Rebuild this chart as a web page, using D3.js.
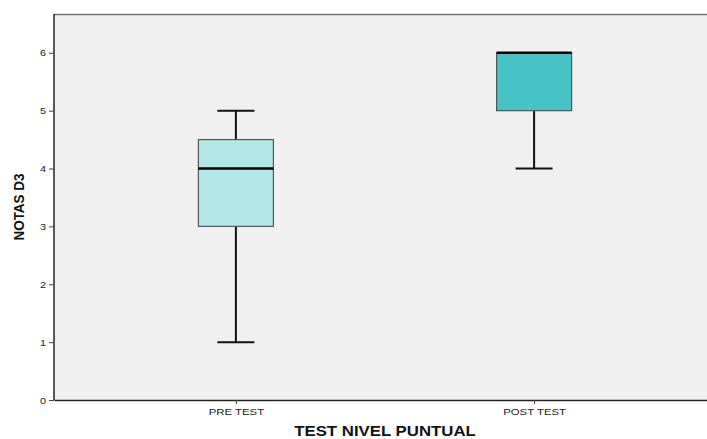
<!DOCTYPE html>
<html>
<head>
<meta charset="utf-8">
<script src="https://cdn.jsdelivr.net/npm/d3@7"></script>
<style>
  body { margin: 0; background: #fff; }
  svg { display: block; }
</style>
</head>
<body>
<div id="chart"></div>
<script>
const categories = ["PRE TEST", "POST TEST"];
const mins    = [1, 4];
const q1s     = [3, 5];
const medians = [4, 6];
const q3s     = [4.5, 6];
const maxs    = [5, 6];
const fills   = ["#b4e7e7", "#47c2c5"];
const yTicks  = [0, 1, 2, 3, 4, 5, 6];

const width = 707, height = 439;
const margin = { top: 14, right: -9, bottom: 39, left: 54 };
const innerW = width - margin.left - margin.right;
const innerH = height - margin.top - margin.bottom;
const font = "'Liberation Sans', Arial, sans-serif";

const svg = d3.select("#chart").append("svg")
    .attr("width", width)
    .attr("height", height);

const g = svg.append("g").attr("transform", `translate(${margin.left},${margin.top})`);

const x = d3.scalePoint().domain(categories).range([0, innerW]).padding(0.61);
const y = d3.scaleLinear().domain([0, 6.67]).range([innerH, 0]);

g.append("rect")
    .attr("width", innerW).attr("height", innerH)
    .attr("fill", "#f0f0f0");

// top border
g.append("line")
    .attr("x1", 0).attr("x2", innerW).attr("y1", 0.5).attr("y2", 0.5)
    .attr("stroke", "#777").attr("stroke-width", 1.5);

const boxW = 75, capW = 37;
const data = categories.map((c, i) => ({
    c, min: mins[i], q1: q1s[i], med: medians[i], q3: q3s[i], max: maxs[i], fill: fills[i]
}));

const box = g.selectAll(".box").data(data).enter().append("g")
    .attr("class", "box")
    .attr("transform", d => `translate(${x(d.c)},0)`);

// whiskers
box.append("line")
    .attr("x1", 0).attr("x2", 0)
    .attr("y1", d => y(d.max)).attr("y2", d => y(d.q3))
    .attr("stroke", "#111").attr("stroke-width", 2);
box.append("line")
    .attr("x1", 0).attr("x2", 0)
    .attr("y1", d => y(d.q1)).attr("y2", d => y(d.min))
    .attr("stroke", "#111").attr("stroke-width", 2);
box.filter(d => d.max > d.q3).append("line")
    .attr("x1", -capW / 2).attr("x2", capW / 2)
    .attr("y1", d => y(d.max)).attr("y2", d => y(d.max))
    .attr("stroke", "#111").attr("stroke-width", 2);
box.filter(d => d.min < d.q1).append("line")
    .attr("x1", -capW / 2).attr("x2", capW / 2)
    .attr("y1", d => y(d.min)).attr("y2", d => y(d.min))
    .attr("stroke", "#111").attr("stroke-width", 2);

box.append("rect")
    .attr("x", -boxW / 2).attr("width", boxW)
    .attr("y", d => y(d.q3)).attr("height", d => y(d.q1) - y(d.q3))
    .attr("fill", d => d.fill)
    .attr("stroke", "#555").attr("stroke-width", 1.2);

box.append("line")
    .attr("x1", -boxW / 2).attr("x2", boxW / 2)
    .attr("y1", d => y(d.med)).attr("y2", d => y(d.med))
    .attr("stroke", "#000").attr("stroke-width", 2.5);

// axes
const yAxis = g.append("g")
    .call(d3.axisLeft(y).tickValues(yTicks).tickSize(5).tickFormat(d3.format("d")));
const xAxis = g.append("g")
    .attr("transform", `translate(0,${innerH})`)
    .call(d3.axisBottom(x).tickSize(4).tickSizeOuter(0));

[yAxis, xAxis].forEach(a => {
    a.select(".domain").attr("stroke", "#222").attr("stroke-width", 1.5);
    a.selectAll(".tick line").attr("stroke", "#444");
    a.selectAll(".tick text")
        .attr("fill", "#222")
        .style("font-family", font)
        .style("font-size", "9.5px");
});
yAxis.select(".domain").attr("d", `M0,0V${innerH}`);
yAxis.selectAll(".tick text").attr("x", -7).attr("transform", "scale(1.15,1)");
xAxis.selectAll(".tick text").attr("dy", "0.85em").attr("transform", "scale(1.2,1)");

svg.append("text")
    .attr("transform", `translate(${margin.left + innerW / 2},436) scale(1.2,1)`)
    .attr("text-anchor", "middle")
    .style("font-family", font)
    .style("font-weight", "bold")
    .style("font-size", "14px")
    .attr("fill", "#111")
    .text("TEST NIVEL PUNTUAL");

svg.append("text")
    .attr("transform", `translate(24,207) rotate(-90) scale(0.9,1)`)
    .attr("text-anchor", "middle")
    .style("font-family", font)
    .style("font-weight", "bold")
    .style("font-size", "15px")
    .attr("fill", "#111")
    .text("NOTAS D3");
</script>
</body>
</html>
